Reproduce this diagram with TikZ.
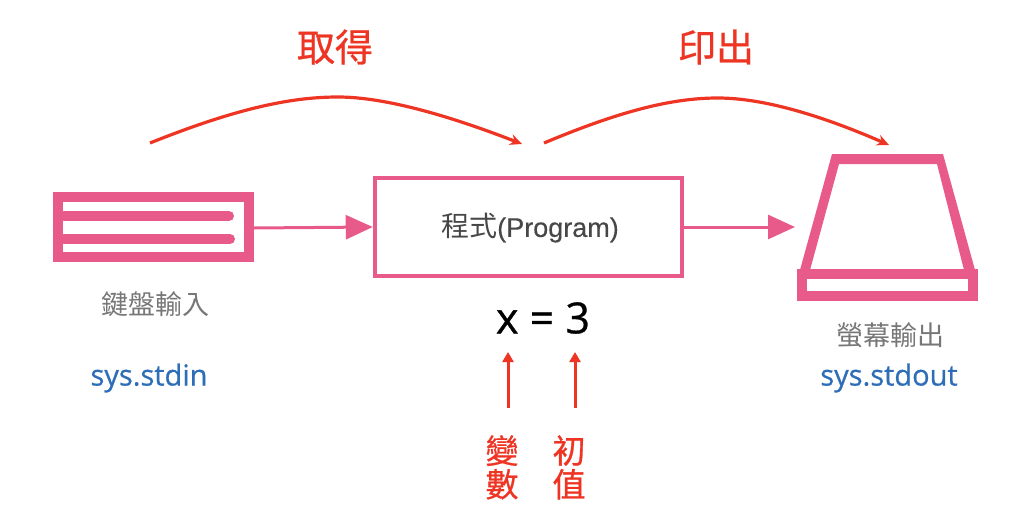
\documentclass[tikz,border=0pt]{standalone}
\usepackage{fontspec}
\setmainfont{Open Sans}
\newfontfamily\cjk{Noto Sans CJK TC}
\newfontfamily\cjkheavy[FakeBold=0.8]{Noto Sans CJK TC}
\newfontfamily\latinheavy[FakeBold=0.7]{Open Sans}
\newfontfamily\arial[FakeBold=0.3]{Liberation Sans}
\usetikzlibrary{arrows.meta}
\definecolor{pinkc}{HTML}{E85A8A}
\definecolor{redc}{HTML}{EE3524}
\definecolor{bluec}{HTML}{2E6EB8}
\definecolor{grayc}{HTML}{777777}
\tikzset{
  lbl/.style={inner sep=0pt,anchor=center},
  redtext/.style={lbl,text=redc,font=\cjkheavy\fontsize{33}{33}\selectfont},
  bigred/.style={lbl,text=redc,font=\cjkheavy\fontsize{38}{38}\selectfont},
  graytext/.style={lbl,text=grayc,font=\cjk\fontsize{27}{27}\selectfont},
  bluetext/.style={lbl,text=bluec,font=\latinheavy\fontsize{29}{29}\selectfont},
  pinkarrow/.style={draw=pinkc,line width=3pt,-{Triangle[length=27pt,width=24pt]}},
  redarrow/.style={draw=redc,line width=3pt,-{Triangle[length=10pt,width=11pt]}},
  curvearrow/.style={draw=redc,line width=3.2pt,-{Stealth[length=12pt,width=11pt]}},
  pinkshape/.style={draw=pinkc,line width=10pt,line join=miter},
}
\begin{document}
\begin{tikzpicture}[x=1pt,y=-1pt]
\useasboundingbox (0,0) rectangle (1024,514);
% keyboard
\draw[pinkshape,fill=white] (58,197) rectangle (249,257);
\draw[draw=pinkc,line width=10pt,line cap=round] (64,216) -- (229,216);
\draw[draw=pinkc,line width=10pt,line cap=round] (64,239) -- (230,239);
\coordinate (kbd) at (254,228);
% program
\node[draw=pinkc,line width=4.5pt,minimum width=307pt,minimum height=98pt,inner sep=0pt,anchor=center] (prog) at (528.5,227) {};
\node[lbl,text=black!72,font=\arial\fontsize{27}{27}\selectfont] (progtext) at (530,228) {{\cjk\fontsize{28}{28}\selectfont 程式}(Program)};
% monitor
\fill[pinkc,even odd rule] (832,154) -- (943,154) -- (975,270) -- (800,270) -- cycle
  (839,164) -- (937,164) -- (964,270) -- (810,270) -- cycle;
\draw[pinkshape,fill=white] (802,273.5) rectangle (973,296);
\coordinate (mon) at (795,227);
% pink arrows
\draw[pinkarrow] (kbd) -- (prog.west);
\draw[pinkarrow] (prog.east |- mon) -- (mon);
% labels
\node[graytext] (kbdlabel) at (155,304) {鍵盤輸入};
\node[graytext] (monlabel) at (890,335) {螢幕輸出};
\node[bluetext] (stdin) at (149,378) {sys.stdin};
\node[bluetext] (stdout) at (889,378) {sys.stdout};
\node[bigred] (get) at (335,47) {取得};
\node[bigred] (put) at (716,47) {印出};
\node[lbl,text=black,font=\latinheavy\fontsize{43}{43}\selectfont] (eq) at (543,318) {x = 3};
\node[redtext] (var) at (502,471) {\begin{tabular}{@{}c@{}}變\\[-4pt]數\end{tabular}};
\node[redtext] (init) at (569,471) {\begin{tabular}{@{}c@{}}初\\[-4pt]值\end{tabular}};
% red arrows
\coordinate (vartop) at (508,408);
\coordinate (vartip) at (508,352);
\coordinate (inittop) at (575,408);
\coordinate (inittip) at (575,352);
\draw[redarrow] (vartop) -- (vartip);
\draw[redarrow] (inittop) -- (inittip);
% curves
\coordinate (a1) at (150,143);
\coordinate (apeak) at (338,97);
\coordinate (a2) at (522,144);
\coordinate (b1) at (544,143);
\coordinate (bpeak) at (718,98);
\coordinate (b2) at (889,145);
\draw[curvearrow] (a1) .. controls (235,109) and (290,97) .. (apeak) .. controls (385,97) and (450,116) .. (a2);
\draw[curvearrow] (b1) .. controls (625,109) and (675,98) .. (bpeak) .. controls (765,98) and (825,117) .. (b2);
\end{tikzpicture}
\end{document}
